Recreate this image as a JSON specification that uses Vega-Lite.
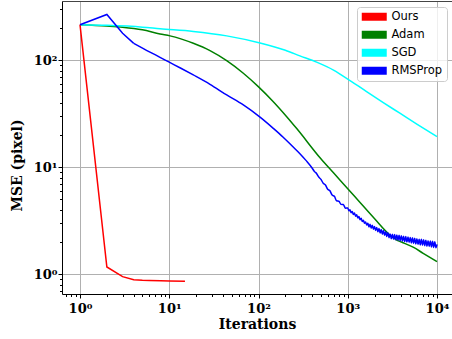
{
  "$schema": "https://vega.github.io/schema/vega-lite/v6.json",
  "autosize": {"type": "none"},
  "padding": {"left": 62, "top": 1, "right": 0, "bottom": 45},
  "width": 390,
  "height": 293,
  "background": "white",
  "config": {
    "view": {"stroke": null},
    "axis": {
      "labelFont": "DejaVu Serif", "labelFontWeight": "bold", "labelFontSize": 13, "labelColor": "black",
      "titleFont": "DejaVu Serif", "titleFontWeight": "bold", "titleFontSize": 14, "titleColor": "black",
      "domainColor": "black", "tickColor": "black", "tickWidth": 1, "domainWidth": 1,
      "gridColor": "#b0b0b0", "gridWidth": 1, "gridOpacity": 1
    }
  },
  "data": {"values": [
    {"m":"Ours","x":1,"y":215},{"m":"Ours","x":2,"y":1.17},{"m":"Ours","x":3,"y":0.95},{"m":"Ours","x":4,"y":0.89},{"m":"Ours","x":5,"y":0.88},{"m":"Ours","x":6,"y":0.875},{"m":"Ours","x":8,"y":0.87},{"m":"Ours","x":10,"y":0.866},{"m":"Ours","x":15,"y":0.86},
    {"m":"Adam","x":1,"y":215},{"m":"Adam","x":2,"y":209},{"m":"Adam","x":3,"y":204},{"m":"Adam","x":5,"y":193},{"m":"Adam","x":7.88,"y":176},{"m":"Adam","x":10.2,"y":169},{"m":"Adam","x":18.6,"y":144},{"m":"Adam","x":28.6,"y":123},{"m":"Adam","x":44,"y":99.1},{"m":"Adam","x":67.6,"y":75.6},{"m":"Adam","x":99.5,"y":56.7},{"m":"Adam","x":146.5,"y":41.0},{"m":"Adam","x":207,"y":29.7},{"m":"Adam","x":268,"y":23.0},{"m":"Adam","x":500,"y":12.0},{"m":"Adam","x":700,"y":8.77},{"m":"Adam","x":1000,"y":6.3},{"m":"Adam","x":1312,"y":4.89},{"m":"Adam","x":2000,"y":3.3},{"m":"Adam","x":2960,"y":2.33},{"m":"Adam","x":3500,"y":2.1},{"m":"Adam","x":4000,"y":2.0},{"m":"Adam","x":5400,"y":1.79},{"m":"Adam","x":7000,"y":1.57},{"m":"Adam","x":10000,"y":1.31},
    {"m":"SGD","x":1,"y":215},{"m":"SGD","x":2,"y":212},{"m":"SGD","x":5,"y":204},{"m":"SGD","x":7.88,"y":197},{"m":"SGD","x":18.6,"y":186},{"m":"SGD","x":44,"y":169},{"m":"SGD","x":104,"y":145},{"m":"SGD","x":200,"y":124},{"m":"SGD","x":291,"y":110},{"m":"SGD","x":448,"y":96},{"m":"SGD","x":700,"y":80.5},{"m":"SGD","x":970,"y":67.9},{"m":"SGD","x":1625,"y":50.9},{"m":"SGD","x":2500,"y":40.2},{"m":"SGD","x":3835,"y":32},{"m":"SGD","x":6000,"y":25.2},{"m":"SGD","x":10000,"y":19.3},
    {"m":"RMSProp","x":1,"y":215},{"m":"RMSProp","x":2,"y":268},{"m":"RMSProp","x":3,"y":179},{"m":"RMSProp","x":4,"y":144},{"m":"RMSProp","x":6,"y":120},{"m":"RMSProp","x":7.88,"y":106.6},{"m":"RMSProp","x":10,"y":96},{"m":"RMSProp","x":13.5,"y":84.2},{"m":"RMSProp","x":18.6,"y":72.9},{"m":"RMSProp","x":28.6,"y":59.6},{"m":"RMSProp","x":44,"y":47.4},{"m":"RMSProp","x":67.6,"y":38.2},{"m":"RMSProp","x":104,"y":29.4},{"m":"RMSProp","x":146.5,"y":23.1},{"m":"RMSProp","x":189,"y":19.1},{"m":"RMSProp","x":240,"y":15.7},{"m":"RMSProp","x":291,"y":13.4},{"m":"RMSProp","x":340,"y":11.6},
    {"m":"RMSProp","x":400,"y":9.8},{"m":"RMSProp","x":422,"y":9.15},{"m":"RMSProp","x":447,"y":8.75},{"m":"RMSProp","x":473,"y":8.1},{"m":"RMSProp","x":501,"y":7.7},{"m":"RMSProp","x":531,"y":7.08},{"m":"RMSProp","x":562,"y":6.82},{"m":"RMSProp","x":596,"y":6.24},{"m":"RMSProp","x":631,"y":6.03},{"m":"RMSProp","x":668,"y":5.5},{"m":"RMSProp","x":708,"y":5.35},{"m":"RMSProp","x":750,"y":4.86},{"m":"RMSProp","x":794,"y":4.82},{"m":"RMSProp","x":841,"y":4.5},{"m":"RMSProp","x":891,"y":4.48},{"m":"RMSProp","x":944,"y":4.15},{"m":"RMSProp","x":1000,"y":4.16},
    {"m":"RMSProp","x":1029,"y":3.92},{"m":"RMSProp","x":1059,"y":4.01},{"m":"RMSProp","x":1090,"y":3.76},{"m":"RMSProp","x":1122,"y":3.86},{"m":"RMSProp","x":1155,"y":3.62},{"m":"RMSProp","x":1189,"y":3.73},{"m":"RMSProp","x":1223,"y":3.49},{"m":"RMSProp","x":1259,"y":3.59},{"m":"RMSProp","x":1296,"y":3.36},{"m":"RMSProp","x":1334,"y":3.46},{"m":"RMSProp","x":1373,"y":3.23},{"m":"RMSProp","x":1413,"y":3.33},{"m":"RMSProp","x":1454,"y":3.11},{"m":"RMSProp","x":1496,"y":3.2},{"m":"RMSProp","x":1540,"y":2.99},{"m":"RMSProp","x":1585,"y":3.08},{"m":"RMSProp","x":1632,"y":2.88},{"m":"RMSProp","x":1679,"y":2.99},{"m":"RMSProp","x":1728,"y":2.77},{"m":"RMSProp","x":1778,"y":2.93},{"m":"RMSProp","x":1830,"y":2.7},{"m":"RMSProp","x":1884,"y":2.87},{"m":"RMSProp","x":1939,"y":2.64},{"m":"RMSProp","x":1995,"y":2.8},{"m":"RMSProp","x":2054,"y":2.57},{"m":"RMSProp","x":2113,"y":2.74},{"m":"RMSProp","x":2175,"y":2.5},{"m":"RMSProp","x":2239,"y":2.68},{"m":"RMSProp","x":2304,"y":2.43},{"m":"RMSProp","x":2371,"y":2.62},{"m":"RMSProp","x":2441,"y":2.37},{"m":"RMSProp","x":2512,"y":2.56},{"m":"RMSProp","x":2585,"y":2.31},{"m":"RMSProp","x":2661,"y":2.5},{"m":"RMSProp","x":2738,"y":2.25},{"m":"RMSProp","x":2818,"y":2.44},{"m":"RMSProp","x":2901,"y":2.2},{"m":"RMSProp","x":2985,"y":2.38},
    {"m":"RMSProp","x":3073,"y":2.15},{"m":"RMSProp","x":3162,"y":2.37},{"m":"RMSProp","x":3255,"y":2.12},{"m":"RMSProp","x":3350,"y":2.35},{"m":"RMSProp","x":3447,"y":2.1},{"m":"RMSProp","x":3548,"y":2.33},{"m":"RMSProp","x":3652,"y":2.08},{"m":"RMSProp","x":3758,"y":2.31},{"m":"RMSProp","x":3868,"y":2.06},{"m":"RMSProp","x":3981,"y":2.29},{"m":"RMSProp","x":4097,"y":2.04},{"m":"RMSProp","x":4217,"y":2.27},{"m":"RMSProp","x":4340,"y":2.02},{"m":"RMSProp","x":4467,"y":2.25},{"m":"RMSProp","x":4597,"y":2.0},{"m":"RMSProp","x":4732,"y":2.23},{"m":"RMSProp","x":4870,"y":1.98},{"m":"RMSProp","x":5012,"y":2.21},{"m":"RMSProp","x":5158,"y":1.96},{"m":"RMSProp","x":5309,"y":2.19},{"m":"RMSProp","x":5464,"y":1.94},{"m":"RMSProp","x":5623,"y":2.17},{"m":"RMSProp","x":5788,"y":1.92},{"m":"RMSProp","x":5957,"y":2.15},{"m":"RMSProp","x":6131,"y":1.9},{"m":"RMSProp","x":6310,"y":2.13},{"m":"RMSProp","x":6494,"y":1.88},{"m":"RMSProp","x":6683,"y":2.12},{"m":"RMSProp","x":6879,"y":1.87},{"m":"RMSProp","x":7079,"y":2.1},{"m":"RMSProp","x":7286,"y":1.85},{"m":"RMSProp","x":7499,"y":2.08},{"m":"RMSProp","x":7718,"y":1.83},{"m":"RMSProp","x":7943,"y":2.06},{"m":"RMSProp","x":8175,"y":1.82},{"m":"RMSProp","x":8414,"y":2.05},{"m":"RMSProp","x":8660,"y":1.8},{"m":"RMSProp","x":8913,"y":2.03},{"m":"RMSProp","x":9173,"y":1.78},{"m":"RMSProp","x":9441,"y":2.01},{"m":"RMSProp","x":9716,"y":1.77},{"m":"RMSProp","x":10000,"y":1.9}
  ]},
  "layer": [
    {
      "transform": [{"filter": "datum.m == 'Adam' || datum.m == 'SGD' || (datum.m == 'RMSProp' && datum.x >= 4)"}],
      "mark": {"type": "line", "strokeWidth": 1.5, "clip": true, "interpolate": "monotone"},
      "encoding": {
        "x": {"field": "x", "type": "quantitative", "scale": {"type": "log", "domain": [0.6285, 14720], "nice": false}, "axis": null},
        "y": {"field": "y", "type": "quantitative", "scale": {"type": "log", "domain": [0.654, 358], "nice": false}, "axis": null},
        "color": {"field": "m", "type": "nominal"}
      }
    },
    {
      "transform": [{"filter": "datum.m == 'Ours' || (datum.m == 'RMSProp' && datum.x <= 4)"}],
      "mark": {"type": "line", "strokeWidth": 1.5, "clip": true},
      "encoding": {
        "x": {"field": "x", "type": "quantitative",
          "scale": {"type": "log", "domain": [0.6285, 14720], "nice": false},
          "axis": {"orient": "bottom", "values": [1, 10, 100, 1000, 10000], "grid": true, "tickSize": 4, "labelPadding": 4,
            "labelExpr": "datum.value == 1 ? '10⁰' : datum.value == 10 ? '10¹' : datum.value == 100 ? '10²' : datum.value == 1000 ? '10³' : '10⁴'",
            "labelFlush": false, "labelOverlap": false, "title": "Iterations", "titlePadding": 2}},
        "y": {"field": "y", "type": "quantitative",
          "scale": {"type": "log", "domain": [0.654, 358], "nice": false},
          "axis": {"orient": "left", "values": [1, 10, 100], "grid": true, "tickSize": 4, "labelPadding": 1,
            "labelExpr": "datum.value == 1 ? '10⁰' : datum.value == 10 ? '10¹' : '10²'",
            "labelFlush": false, "labelOverlap": false, "title": "MSE (pixel)", "titleX": -38, "titleY": 164}},
        "color": {"field": "m", "type": "nominal",
          "scale": {"domain": ["Ours", "Adam", "SGD", "RMSProp"], "range": ["#ff0000", "#008000", "#00ffff", "#0000ff"]},
          "legend": {"orient": "none", "legendX": 295, "legendY": 6, "title": null,
            "symbolType": "M-2.5,-0.8L2.5,-0.8L2.5,0.8L-2.5,0.8Z", "symbolSize": 100, "symbolOffset": 7.5,
            "symbolStrokeWidth": 0, "labelOffset": 11.4, "rowPadding": 5,
            "labelFont": "DejaVu Sans", "labelFontSize": 11.5, "labelColor": "black",
            "fillColor": "rgba(255,255,255,0.8)", "strokeColor": "#cccccc", "cornerRadius": 3, "padding": 4,
            "encode": {"symbols": {"update": {"fill": {"scale": "color", "field": "value"}, "stroke": {"value": "transparent"}, "opacity": {"value": 1}}}}}}
      }
    },
    {
      "mark": {"type": "point", "opacity": 0},
      "encoding": {
        "x": {"field": "x", "type": "quantitative",
          "axis": {"orient": "bottom", "values": [0.7,0.8,0.9,2,3,4,5,6,7,8,9,20,30,40,50,60,70,80,90,200,300,400,500,600,700,800,900,2000,3000,4000,5000,6000,7000,8000,9000],
            "labels": false, "grid": false, "domain": false, "tickSize": 2.5, "title": null}},
        "y": {"field": "y", "type": "quantitative",
          "axis": {"orient": "left", "values": [0.7,0.8,0.9,2,3,4,5,6,7,8,9,20,30,40,50,60,70,80,90,200,300],
            "labels": false, "grid": false, "domain": false, "tickSize": 2.5, "title": null}}
      }
    },
    {
      "mark": {"type": "point", "opacity": 0},
      "encoding": {
        "x": {"field": "x", "type": "quantitative",
          "axis": {"orient": "top", "labels": false, "ticks": false, "grid": false, "domain": true, "domainColor": "#444444", "title": null}},
        "y": {"field": "y", "type": "quantitative", "axis": null}
      }
    }
  ],
  "resolve": {"axis": {"x": "independent", "y": "independent"}}
}
